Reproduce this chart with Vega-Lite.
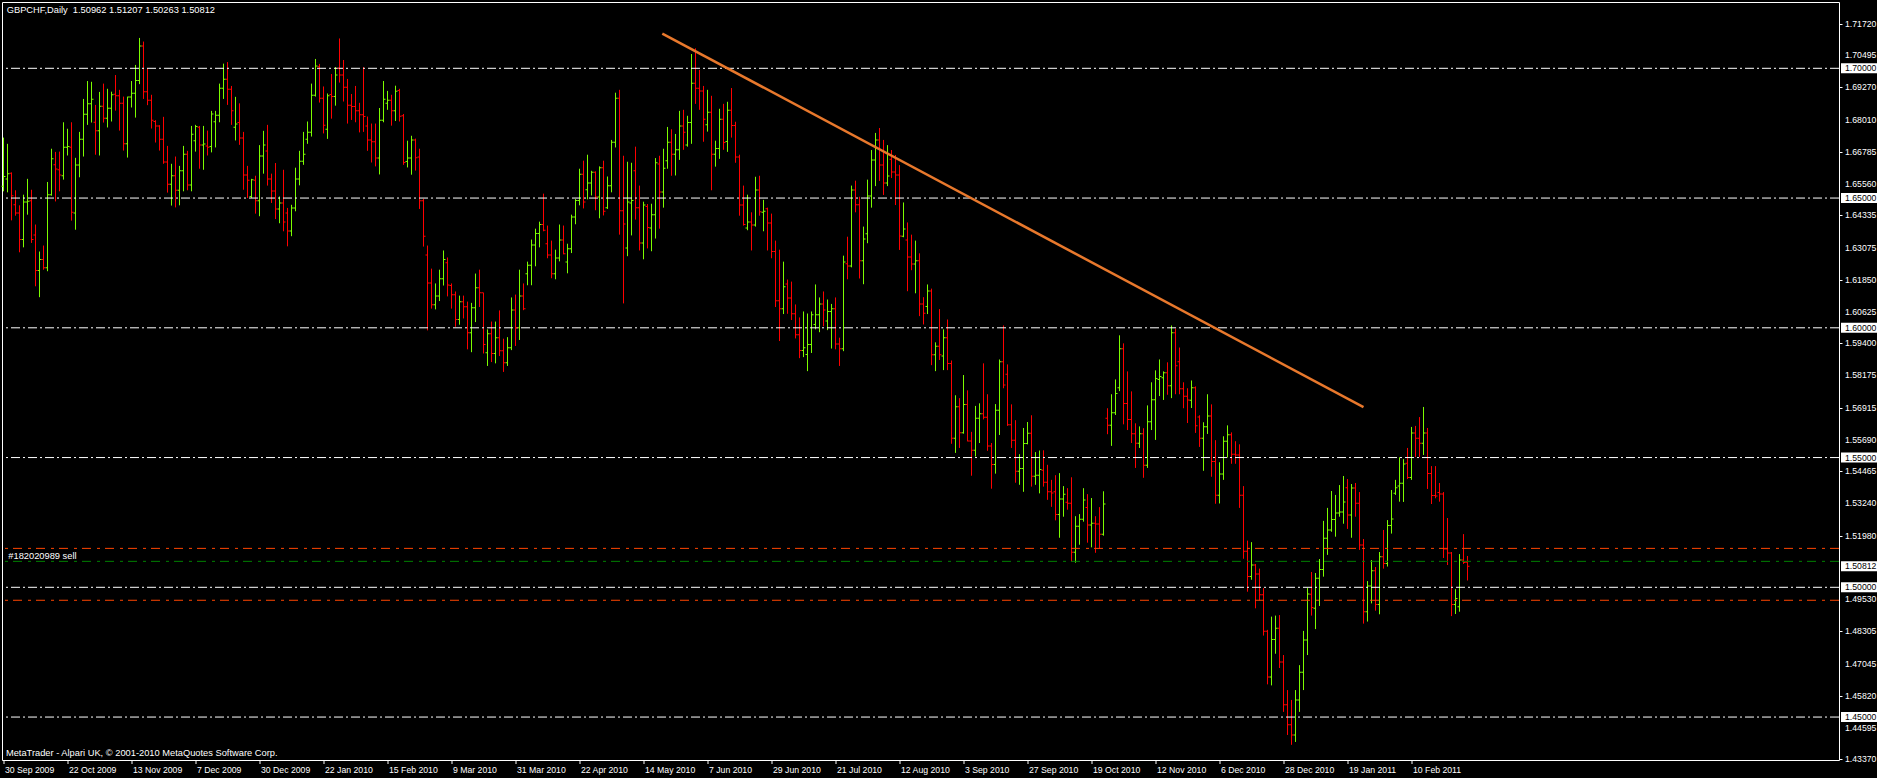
{
"$schema":"https://vega.github.io/schema/vega-lite/v6.json",
"width":1837,"height":758,
"autosize":{"type":"none"},
"padding":{"left":2,"top":2,"right":38,"bottom":18},
"background":"#000000",
"config":{"view":{"stroke":"#ffffff","strokeWidth":1},"font":"Liberation Sans"},
"datasets":{
"bars":[
{"i":0,"o":1.6545,"h":1.6733,"l":1.6526,"c":1.6583},{"i":1,"o":1.6573,"h":1.6709,"l":1.6522,"c":1.6594},{"i":2,"o":1.6596,"h":1.6599,"l":1.6414,"c":1.6509},{"i":3,"o":1.6474,"h":1.6530,"l":1.6432,"c":1.6442},{"i":4,"o":1.6442,"h":1.6472,"l":1.6291,"c":1.6340},{"i":5,"o":1.6340,"h":1.6513,"l":1.6310,"c":1.6485},{"i":6,"o":1.6485,"h":1.6574,"l":1.6436,"c":1.6488},{"i":7,"o":1.6490,"h":1.6532,"l":1.6327,"c":1.6340},{"i":8,"o":1.6358,"h":1.6398,"l":1.6160,"c":1.6221},{"i":9,"o":1.6221,"h":1.6294,"l":1.6118,"c":1.6263},
{"i":10,"o":1.6263,"h":1.6317,"l":1.6224,"c":1.6231},{"i":11,"o":1.6231,"h":1.6562,"l":1.6218,"c":1.6513},{"i":12,"o":1.6513,"h":1.6690,"l":1.6509,"c":1.6651},{"i":13,"o":1.6628,"h":1.6678,"l":1.6487,"c":1.6612},{"i":14,"o":1.6609,"h":1.6679,"l":1.6526,"c":1.6589},{"i":15,"o":1.6586,"h":1.6792,"l":1.6571,"c":1.6696},{"i":16,"o":1.6696,"h":1.6767,"l":1.6664,"c":1.6699},{"i":17,"o":1.6696,"h":1.6792,"l":1.6413,"c":1.6445},{"i":18,"o":1.6442,"h":1.6655,"l":1.6378,"c":1.6627},{"i":19,"o":1.6627,"h":1.6755,"l":1.6580,"c":1.6727},
{"i":20,"o":1.6727,"h":1.6882,"l":1.6660,"c":1.6823},{"i":21,"o":1.6823,"h":1.6951,"l":1.6782,"c":1.6863},{"i":22,"o":1.6863,"h":1.6948,"l":1.6791,"c":1.6881},{"i":23,"o":1.6792,"h":1.6859,"l":1.6667,"c":1.6759},{"i":24,"o":1.6759,"h":1.6909,"l":1.6664,"c":1.6854},{"i":25,"o":1.6854,"h":1.6941,"l":1.6791,"c":1.6808},{"i":26,"o":1.6808,"h":1.6921,"l":1.6772,"c":1.6846},{"i":27,"o":1.6846,"h":1.6910,"l":1.6795,"c":1.6898},{"i":28,"o":1.6900,"h":1.6974,"l":1.6837,"c":1.6894},{"i":29,"o":1.6894,"h":1.6917,"l":1.6760,"c":1.6865},
{"i":30,"o":1.6865,"h":1.6891,"l":1.6683,"c":1.6709},{"i":31,"o":1.6709,"h":1.6891,"l":1.6656,"c":1.6889},{"i":32,"o":1.6889,"h":1.6951,"l":1.6849,"c":1.6904},{"i":33,"o":1.6904,"h":1.7013,"l":1.6810,"c":1.6953},{"i":34,"o":1.6953,"h":1.7117,"l":1.6939,"c":1.7086},{"i":35,"o":1.7086,"h":1.7103,"l":1.6882,"c":1.6910},{"i":36,"o":1.6910,"h":1.7000,"l":1.6858,"c":1.6877},{"i":37,"o":1.6877,"h":1.6898,"l":1.6768,"c":1.6800},{"i":38,"o":1.6795,"h":1.6800,"l":1.6714,"c":1.6778},{"i":39,"o":1.6778,"h":1.6781,"l":1.6683,"c":1.6727},
{"i":40,"o":1.6727,"h":1.6813,"l":1.6632,"c":1.6639},{"i":41,"o":1.6639,"h":1.6701,"l":1.6521,"c":1.6553},{"i":42,"o":1.6553,"h":1.6632,"l":1.6471,"c":1.6586},{"i":43,"o":1.6586,"h":1.6660,"l":1.6464,"c":1.6530},{"i":44,"o":1.6530,"h":1.6624,"l":1.6472,"c":1.6605},{"i":45,"o":1.6605,"h":1.6701,"l":1.6526,"c":1.6669},{"i":46,"o":1.6669,"h":1.6682,"l":1.6530,"c":1.6550},{"i":47,"o":1.6550,"h":1.6778,"l":1.6526,"c":1.6746},{"i":48,"o":1.6721,"h":1.6782,"l":1.6679,"c":1.6776},{"i":49,"o":1.6773,"h":1.6778,"l":1.6613,"c":1.6704},
{"i":50,"o":1.6704,"h":1.6778,"l":1.6609,"c":1.6708},{"i":51,"o":1.6701,"h":1.6760,"l":1.6664,"c":1.6696},{"i":52,"o":1.6699,"h":1.6836,"l":1.6676,"c":1.6824},{"i":53,"o":1.6794,"h":1.6836,"l":1.6695,"c":1.6819},{"i":54,"o":1.6819,"h":1.6941,"l":1.6792,"c":1.6923},{"i":55,"o":1.6923,"h":1.7018,"l":1.6882,"c":1.6958},{"i":56,"o":1.6958,"h":1.7024,"l":1.6859,"c":1.6919},{"i":57,"o":1.6919,"h":1.6932,"l":1.6782,"c":1.6836},{"i":58,"o":1.6773,"h":1.6890,"l":1.6722,"c":1.6785},{"i":59,"o":1.6791,"h":1.6865,"l":1.6705,"c":1.6731},
{"i":60,"o":1.6731,"h":1.6755,"l":1.6532,"c":1.6589},{"i":61,"o":1.6589,"h":1.6624,"l":1.6500,"c":1.6569},{"i":62,"o":1.6506,"h":1.6574,"l":1.6500,"c":1.6571},{"i":63,"o":1.6569,"h":1.6586,"l":1.6440,"c":1.6490},{"i":64,"o":1.6490,"h":1.6704,"l":1.6430,"c":1.6662},{"i":65,"o":1.6662,"h":1.6759,"l":1.6594,"c":1.6704},{"i":66,"o":1.6681,"h":1.6782,"l":1.6548,"c":1.6573},{"i":67,"o":1.6573,"h":1.6594,"l":1.6481,"c":1.6527},{"i":68,"o":1.6527,"h":1.6635,"l":1.6419,"c":1.6458},{"i":69,"o":1.6458,"h":1.6506,"l":1.6403,"c":1.6481},
{"i":70,"o":1.6481,"h":1.6609,"l":1.6372,"c":1.6408},{"i":71,"o":1.6442,"h":1.6462,"l":1.6314,"c":1.6373},{"i":72,"o":1.6373,"h":1.6474,"l":1.6353,"c":1.6462},{"i":73,"o":1.6462,"h":1.6617,"l":1.6449,"c":1.6573},{"i":74,"o":1.6573,"h":1.6682,"l":1.6549,"c":1.6642},{"i":75,"o":1.6642,"h":1.6755,"l":1.6628,"c":1.6669},{"i":76,"o":1.6727,"h":1.6795,"l":1.6709,"c":1.6754},{"i":77,"o":1.6754,"h":1.6941,"l":1.6737,"c":1.6896},{"i":78,"o":1.6896,"h":1.7036,"l":1.6891,"c":1.7009},{"i":79,"o":1.7006,"h":1.7017,"l":1.6868,"c":1.6885},
{"i":80,"o":1.6885,"h":1.6930,"l":1.6749,"c":1.6781},{"i":81,"o":1.6765,"h":1.6903,"l":1.6728,"c":1.6894},{"i":82,"o":1.6899,"h":1.6978,"l":1.6806,"c":1.6891},{"i":83,"o":1.6891,"h":1.7005,"l":1.6856,"c":1.6974},{"i":84,"o":1.7000,"h":1.7115,"l":1.6945,"c":1.6974},{"i":85,"o":1.6974,"h":1.7032,"l":1.6872,"c":1.6927},{"i":86,"o":1.6927,"h":1.6959,"l":1.6787,"c":1.6858},{"i":87,"o":1.6858,"h":1.6901,"l":1.6801,"c":1.6853},{"i":88,"o":1.6853,"h":1.6932,"l":1.6792,"c":1.6836},{"i":89,"o":1.6836,"h":1.6867,"l":1.6753,"c":1.6821},
{"i":90,"o":1.6821,"h":1.7005,"l":1.6755,"c":1.6814},{"i":91,"o":1.6778,"h":1.6814,"l":1.6682,"c":1.6724},{"i":92,"o":1.6724,"h":1.6787,"l":1.6637,"c":1.6717},{"i":93,"o":1.6717,"h":1.6787,"l":1.6622,"c":1.6654},{"i":94,"o":1.6654,"h":1.6847,"l":1.6591,"c":1.6800},{"i":95,"o":1.6800,"h":1.6951,"l":1.6792,"c":1.6881},{"i":96,"o":1.6865,"h":1.6913,"l":1.6840,"c":1.6877},{"i":97,"o":1.6877,"h":1.6898,"l":1.6779,"c":1.6836},{"i":98,"o":1.6836,"h":1.6933,"l":1.6797,"c":1.6912},{"i":99,"o":1.6914,"h":1.6921,"l":1.6795,"c":1.6815},
{"i":100,"o":1.6817,"h":1.6824,"l":1.6628,"c":1.6637},{"i":101,"o":1.6641,"h":1.6721,"l":1.6618,"c":1.6654},{"i":102,"o":1.6654,"h":1.6740,"l":1.6590,"c":1.6724},{"i":103,"o":1.6724,"h":1.6729,"l":1.6606,"c":1.6655},{"i":104,"o":1.6658,"h":1.6690,"l":1.6458,"c":1.6490},{"i":105,"o":1.6490,"h":1.6497,"l":1.6313,"c":1.6353},{"i":106,"o":1.6281,"h":1.6317,"l":1.5990,"c":1.6173},{"i":107,"o":1.6173,"h":1.6228,"l":1.6074,"c":1.6089},{"i":108,"o":1.6089,"h":1.6171,"l":1.6071,"c":1.6123},{"i":109,"o":1.6123,"h":1.6224,"l":1.6103,"c":1.6189},
{"i":110,"o":1.6189,"h":1.6298,"l":1.6163,"c":1.6263},{"i":111,"o":1.6251,"h":1.6271,"l":1.6121,"c":1.6165},{"i":112,"o":1.6163,"h":1.6171,"l":1.6074,"c":1.6127},{"i":113,"o":1.6127,"h":1.6140,"l":1.6004,"c":1.6032},{"i":114,"o":1.6032,"h":1.6124,"l":1.6012,"c":1.6100},{"i":115,"o":1.6100,"h":1.6124,"l":1.6036,"c":1.6081},{"i":116,"o":1.6081,"h":1.6101,"l":1.5917,"c":1.5981},{"i":117,"o":1.5981,"h":1.6096,"l":1.5906,"c":1.6077},{"i":118,"o":1.6077,"h":1.6209,"l":1.6022,"c":1.6154},{"i":119,"o":1.6154,"h":1.6224,"l":1.6080,"c":1.6135},
{"i":120,"o":1.6135,"h":1.6136,"l":1.5901,"c":1.5936},{"i":121,"o":1.5904,"h":1.5994,"l":1.5853,"c":1.5977},{"i":122,"o":1.5977,"h":1.6024,"l":1.5868,"c":1.5901},{"i":123,"o":1.5901,"h":1.6024,"l":1.5863,"c":1.5962},{"i":124,"o":1.5962,"h":1.6067,"l":1.5891,"c":1.5912},{"i":125,"o":1.5912,"h":1.5958,"l":1.5830,"c":1.5865},{"i":126,"o":1.5865,"h":1.5964,"l":1.5853,"c":1.5923},{"i":127,"o":1.5923,"h":1.6117,"l":1.5914,"c":1.6069},{"i":128,"o":1.6069,"h":1.6128,"l":1.5930,"c":1.6000},{"i":129,"o":1.6000,"h":1.6224,"l":1.5953,"c":1.6123},
{"i":130,"o":1.6123,"h":1.6171,"l":1.6068,"c":1.6073},{"i":131,"o":1.6208,"h":1.6255,"l":1.6164,"c":1.6241},{"i":132,"o":1.6241,"h":1.6340,"l":1.6164,"c":1.6319},{"i":133,"o":1.6319,"h":1.6382,"l":1.6237,"c":1.6363},{"i":134,"o":1.6363,"h":1.6409,"l":1.6310,"c":1.6398},{"i":135,"o":1.6398,"h":1.6517,"l":1.6372,"c":1.6376},{"i":136,"o":1.6324,"h":1.6394,"l":1.6268,"c":1.6281},{"i":137,"o":1.6281,"h":1.6336,"l":1.6191,"c":1.6208},{"i":138,"o":1.6208,"h":1.6301,"l":1.6187,"c":1.6269},{"i":139,"o":1.6269,"h":1.6398,"l":1.6256,"c":1.6338},
{"i":140,"o":1.6338,"h":1.6394,"l":1.6283,"c":1.6285},{"i":141,"o":1.6254,"h":1.6324,"l":1.6210,"c":1.6305},{"i":142,"o":1.6305,"h":1.6436,"l":1.6288,"c":1.6427},{"i":143,"o":1.6427,"h":1.6496,"l":1.6399,"c":1.6491},{"i":144,"o":1.6491,"h":1.6613,"l":1.6472,"c":1.6592},{"i":145,"o":1.6592,"h":1.6644,"l":1.6460,"c":1.6485},{"i":146,"o":1.6532,"h":1.6667,"l":1.6495,"c":1.6558},{"i":147,"o":1.6558,"h":1.6605,"l":1.6510,"c":1.6599},{"i":148,"o":1.6599,"h":1.6603,"l":1.6453,"c":1.6504},{"i":149,"o":1.6504,"h":1.6622,"l":1.6422,"c":1.6617},
{"i":150,"o":1.6617,"h":1.6644,"l":1.6433,"c":1.6449},{"i":151,"o":1.6463,"h":1.6583,"l":1.6458,"c":1.6547},{"i":152,"o":1.6547,"h":1.6724,"l":1.6522,"c":1.6715},{"i":153,"o":1.6715,"h":1.6906,"l":1.6695,"c":1.6885},{"i":154,"o":1.6885,"h":1.6917,"l":1.6359,"c":1.6451},{"i":155,"o":1.6451,"h":1.6663,"l":1.6094,"c":1.6400},{"i":156,"o":1.6308,"h":1.6640,"l":1.6276,"c":1.6485},{"i":157,"o":1.6481,"h":1.6636,"l":1.6356,"c":1.6491},{"i":158,"o":1.6605,"h":1.6698,"l":1.6417,"c":1.6463},{"i":159,"o":1.6463,"h":1.6548,"l":1.6298,"c":1.6327},
{"i":160,"o":1.6327,"h":1.6486,"l":1.6264,"c":1.6473},{"i":161,"o":1.6467,"h":1.6477,"l":1.6306,"c":1.6387},{"i":162,"o":1.6385,"h":1.6478,"l":1.6295,"c":1.6436},{"i":163,"o":1.6436,"h":1.6654,"l":1.6344,"c":1.6636},{"i":164,"o":1.6631,"h":1.6663,"l":1.6382,"c":1.6523},{"i":165,"o":1.6523,"h":1.6690,"l":1.6463,"c":1.6615},{"i":166,"o":1.6644,"h":1.6774,"l":1.6613,"c":1.6715},{"i":167,"o":1.6715,"h":1.6765,"l":1.6586,"c":1.6669},{"i":168,"o":1.6669,"h":1.6747,"l":1.6587,"c":1.6686},{"i":169,"o":1.6686,"h":1.6836,"l":1.6647,"c":1.6778},
{"i":170,"o":1.6778,"h":1.6840,"l":1.6686,"c":1.6754},{"i":171,"o":1.6704,"h":1.6817,"l":1.6698,"c":1.6791},{"i":172,"o":1.6791,"h":1.7055,"l":1.6709,"c":1.6942},{"i":173,"o":1.6942,"h":1.7077,"l":1.6863,"c":1.6923},{"i":174,"o":1.6923,"h":1.6994,"l":1.6840,"c":1.6913},{"i":175,"o":1.6913,"h":1.6932,"l":1.6717,"c":1.6804},{"i":176,"o":1.6782,"h":1.6917,"l":1.6756,"c":1.6831},{"i":177,"o":1.6831,"h":1.6894,"l":1.6530,"c":1.6669},{"i":178,"o":1.6669,"h":1.6721,"l":1.6621,"c":1.6691},{"i":179,"o":1.6691,"h":1.6844,"l":1.6651,"c":1.6804},
{"i":180,"o":1.6804,"h":1.6863,"l":1.6686,"c":1.6714},{"i":181,"o":1.6718,"h":1.6871,"l":1.6678,"c":1.6838},{"i":182,"o":1.6838,"h":1.6924,"l":1.6733,"c":1.6780},{"i":183,"o":1.6780,"h":1.6794,"l":1.6636,"c":1.6658},{"i":184,"o":1.6658,"h":1.6667,"l":1.6432,"c":1.6473},{"i":185,"o":1.6473,"h":1.6548,"l":1.6394,"c":1.6398},{"i":186,"o":1.6385,"h":1.6513,"l":1.6376,"c":1.6408},{"i":187,"o":1.6408,"h":1.6445,"l":1.6298,"c":1.6396},{"i":188,"o":1.6396,"h":1.6582,"l":1.6390,"c":1.6531},{"i":189,"o":1.6531,"h":1.6586,"l":1.6432,"c":1.6447},
{"i":190,"o":1.6445,"h":1.6493,"l":1.6372,"c":1.6449},{"i":191,"o":1.6459,"h":1.6463,"l":1.6298,"c":1.6404},{"i":192,"o":1.6404,"h":1.6440,"l":1.6268,"c":1.6294},{"i":193,"o":1.6294,"h":1.6336,"l":1.6080,"c":1.6104},{"i":194,"o":1.6104,"h":1.6301,"l":1.5949,"c":1.6073},{"i":195,"o":1.6073,"h":1.6255,"l":1.6053,"c":1.6158},{"i":196,"o":1.6169,"h":1.6186,"l":1.6054,"c":1.6115},{"i":197,"o":1.6115,"h":1.6178,"l":1.6030,"c":1.6054},{"i":198,"o":1.6054,"h":1.6090,"l":1.5959,"c":1.5973},{"i":199,"o":1.5973,"h":1.6040,"l":1.5883,"c":1.5913},
{"i":200,"o":1.5913,"h":1.6063,"l":1.5887,"c":1.5923},{"i":201,"o":1.5897,"h":1.6055,"l":1.5833,"c":1.5936},{"i":202,"o":1.5936,"h":1.6063,"l":1.5903,"c":1.6050},{"i":203,"o":1.6013,"h":1.6167,"l":1.5994,"c":1.6050},{"i":204,"o":1.6050,"h":1.6117,"l":1.5983,"c":1.6092},{"i":205,"o":1.6092,"h":1.6140,"l":1.6006,"c":1.6069},{"i":206,"o":1.6026,"h":1.6109,"l":1.5991,"c":1.6063},{"i":207,"o":1.6063,"h":1.6092,"l":1.5920,"c":1.6073},{"i":208,"o":1.6073,"h":1.6117,"l":1.5917,"c":1.5938},{"i":209,"o":1.5938,"h":1.5962,"l":1.5853,"c":1.5919},
{"i":210,"o":1.5919,"h":1.6278,"l":1.5910,"c":1.6254},{"i":211,"o":1.6247,"h":1.6351,"l":1.6187,"c":1.6238},{"i":212,"o":1.6238,"h":1.6548,"l":1.6233,"c":1.6531},{"i":213,"o":1.6531,"h":1.6567,"l":1.6445,"c":1.6474},{"i":214,"o":1.6474,"h":1.6505,"l":1.6190,"c":1.6258},{"i":215,"o":1.6258,"h":1.6390,"l":1.6168,"c":1.6342},{"i":216,"o":1.6362,"h":1.6571,"l":1.6326,"c":1.6508},{"i":217,"o":1.6508,"h":1.6685,"l":1.6463,"c":1.6647},{"i":218,"o":1.6647,"h":1.6751,"l":1.6546,"c":1.6724},{"i":219,"o":1.6724,"h":1.6770,"l":1.6566,"c":1.6627},
{"i":220,"o":1.6627,"h":1.6724,"l":1.6512,"c":1.6558},{"i":221,"o":1.6558,"h":1.6704,"l":1.6546,"c":1.6585},{"i":222,"o":1.6650,"h":1.6685,"l":1.6577,"c":1.6600},{"i":223,"o":1.6600,"h":1.6666,"l":1.6473,"c":1.6589},{"i":224,"o":1.6589,"h":1.6627,"l":1.6300,"c":1.6354},{"i":225,"o":1.6353,"h":1.6483,"l":1.6349,"c":1.6381},{"i":226,"o":1.6338,"h":1.6406,"l":1.6141,"c":1.6273},{"i":227,"o":1.6273,"h":1.6359,"l":1.6222,"c":1.6246},{"i":228,"o":1.6246,"h":1.6336,"l":1.6133,"c":1.6258},{"i":229,"o":1.6258,"h":1.6287,"l":1.6045,"c":1.6092},
{"i":230,"o":1.6092,"h":1.6118,"l":1.6013,"c":1.6056},{"i":231,"o":1.6082,"h":1.6167,"l":1.6053,"c":1.6142},{"i":232,"o":1.6142,"h":1.6151,"l":1.5856,"c":1.5896},{"i":233,"o":1.5896,"h":1.5944,"l":1.5833,"c":1.5929},{"i":234,"o":1.5929,"h":1.6072,"l":1.5876,"c":1.5896},{"i":235,"o":1.5891,"h":1.5994,"l":1.5837,"c":1.5962},{"i":236,"o":1.5962,"h":1.6032,"l":1.5837,"c":1.5862},{"i":237,"o":1.5862,"h":1.5874,"l":1.5553,"c":1.5574},{"i":238,"o":1.5574,"h":1.5740,"l":1.5518,"c":1.5696},{"i":239,"o":1.5696,"h":1.5729,"l":1.5537,"c":1.5596},
{"i":240,"o":1.5596,"h":1.5818,"l":1.5592,"c":1.5704},{"i":241,"o":1.5704,"h":1.5759,"l":1.5562,"c":1.5564},{"i":242,"o":1.5564,"h":1.5599,"l":1.5430,"c":1.5528},{"i":243,"o":1.5528,"h":1.5699,"l":1.5504,"c":1.5651},{"i":244,"o":1.5651,"h":1.5709,"l":1.5556,"c":1.5669},{"i":245,"o":1.5669,"h":1.5863,"l":1.5647,"c":1.5655},{"i":246,"o":1.5655,"h":1.5744,"l":1.5526,"c":1.5545},{"i":247,"o":1.5545,"h":1.5556,"l":1.5380,"c":1.5473},{"i":248,"o":1.5473,"h":1.5706,"l":1.5438,"c":1.5682},{"i":249,"o":1.5682,"h":1.5878,"l":1.5587,"c":1.5869},
{"i":250,"o":1.5869,"h":1.6009,"l":1.5767,"c":1.5780},{"i":251,"o":1.5821,"h":1.5859,"l":1.5622,"c":1.5626},{"i":252,"o":1.5626,"h":1.5705,"l":1.5537,"c":1.5567},{"i":253,"o":1.5567,"h":1.5644,"l":1.5403,"c":1.5447},{"i":254,"o":1.5447,"h":1.5513,"l":1.5395,"c":1.5458},{"i":255,"o":1.5458,"h":1.5614,"l":1.5368,"c":1.5554},{"i":256,"o":1.5554,"h":1.5637,"l":1.5551,"c":1.5594},{"i":257,"o":1.5594,"h":1.5663,"l":1.5388,"c":1.5428},{"i":258,"o":1.5428,"h":1.5521,"l":1.5395,"c":1.5432},{"i":259,"o":1.5432,"h":1.5527,"l":1.5362,"c":1.5454},
{"i":260,"o":1.5451,"h":1.5528,"l":1.5388,"c":1.5405},{"i":261,"o":1.5405,"h":1.5472,"l":1.5337,"c":1.5368},{"i":262,"o":1.5368,"h":1.5414,"l":1.5310,"c":1.5363},{"i":263,"o":1.5368,"h":1.5432,"l":1.5258,"c":1.5281},{"i":264,"o":1.5281,"h":1.5440,"l":1.5191,"c":1.5340},{"i":265,"o":1.5340,"h":1.5390,"l":1.5272,"c":1.5359},{"i":266,"o":1.5328,"h":1.5382,"l":1.5299,"c":1.5324},{"i":267,"o":1.5324,"h":1.5424,"l":1.5099,"c":1.5135},{"i":268,"o":1.5135,"h":1.5274,"l":1.5095,"c":1.5235},{"i":269,"o":1.5235,"h":1.5282,"l":1.5164,"c":1.5262},
{"i":270,"o":1.5262,"h":1.5382,"l":1.5253,"c":1.5336},{"i":271,"o":1.5308,"h":1.5359,"l":1.5172,"c":1.5240},{"i":272,"o":1.5240,"h":1.5344,"l":1.5154,"c":1.5247},{"i":273,"o":1.5247,"h":1.5274,"l":1.5133,"c":1.5244},{"i":274,"o":1.5244,"h":1.5309,"l":1.5149,"c":1.5204},{"i":275,"o":1.5204,"h":1.5370,"l":1.5199,"c":1.5321},{"i":276,"o":1.5651,"h":1.5690,"l":1.5590,"c":1.5624},{"i":277,"o":1.5624,"h":1.5744,"l":1.5545,"c":1.5673},{"i":278,"o":1.5673,"h":1.5801,"l":1.5664,"c":1.5747},{"i":279,"o":1.5769,"h":1.5971,"l":1.5756,"c":1.5919},
{"i":280,"o":1.5919,"h":1.5940,"l":1.5628,"c":1.5708},{"i":281,"o":1.5708,"h":1.5832,"l":1.5606,"c":1.5647},{"i":282,"o":1.5647,"h":1.5755,"l":1.5556,"c":1.5592},{"i":283,"o":1.5592,"h":1.5632,"l":1.5460,"c":1.5555},{"i":284,"o":1.5555,"h":1.5620,"l":1.5537,"c":1.5592},{"i":285,"o":1.5592,"h":1.5613,"l":1.5422,"c":1.5470},{"i":286,"o":1.5470,"h":1.5701,"l":1.5460,"c":1.5638},{"i":287,"o":1.5638,"h":1.5790,"l":1.5606,"c":1.5723},{"i":288,"o":1.5723,"h":1.5836,"l":1.5568,"c":1.5805},{"i":289,"o":1.5801,"h":1.5878,"l":1.5737,"c":1.5812},
{"i":290,"o":1.5808,"h":1.5832,"l":1.5722,"c":1.5827},{"i":291,"o":1.5827,"h":1.5867,"l":1.5742,"c":1.5777},{"i":292,"o":1.5777,"h":1.6009,"l":1.5729,"c":1.5981},{"i":293,"o":1.5981,"h":1.5997,"l":1.5744,"c":1.5854},{"i":294,"o":1.5869,"h":1.5924,"l":1.5744,"c":1.5765},{"i":295,"o":1.5765,"h":1.5790,"l":1.5690,"c":1.5736},{"i":296,"o":1.5736,"h":1.5767,"l":1.5633,"c":1.5722},{"i":297,"o":1.5721,"h":1.5797,"l":1.5691,"c":1.5769},{"i":298,"o":1.5769,"h":1.5774,"l":1.5595,"c":1.5623},{"i":299,"o":1.5656,"h":1.5663,"l":1.5541,"c":1.5574},
{"i":300,"o":1.5574,"h":1.5636,"l":1.5449,"c":1.5619},{"i":301,"o":1.5619,"h":1.5744,"l":1.5591,"c":1.5660},{"i":302,"o":1.5660,"h":1.5705,"l":1.5426,"c":1.5485},{"i":303,"o":1.5485,"h":1.5567,"l":1.5322,"c":1.5355},{"i":304,"o":1.5355,"h":1.5482,"l":1.5323,"c":1.5437},{"i":305,"o":1.5437,"h":1.5582,"l":1.5414,"c":1.5563},{"i":306,"o":1.5563,"h":1.5624,"l":1.5500,"c":1.5588},{"i":307,"o":1.5588,"h":1.5597,"l":1.5476,"c":1.5513},{"i":308,"o":1.5513,"h":1.5563,"l":1.5476,"c":1.5510},{"i":309,"o":1.5510,"h":1.5551,"l":1.5306,"c":1.5355},
{"i":310,"o":1.5355,"h":1.5390,"l":1.5110,"c":1.5139},{"i":311,"o":1.5139,"h":1.5180,"l":1.4983,"c":1.5042},{"i":312,"o":1.5042,"h":1.5174,"l":1.5029,"c":1.5086},{"i":313,"o":1.5086,"h":1.5090,"l":1.4919,"c":1.5051},{"i":314,"o":1.5051,"h":1.5072,"l":1.4949,"c":1.4971},{"i":315,"o":1.4971,"h":1.4997,"l":1.4814,"c":1.4831},{"i":316,"o":1.4831,"h":1.4836,"l":1.4626,"c":1.4654},{"i":317,"o":1.4654,"h":1.4887,"l":1.4622,"c":1.4799},{"i":318,"o":1.4799,"h":1.4891,"l":1.4744,"c":1.4842},{"i":319,"o":1.4842,"h":1.4893,"l":1.4689,"c":1.4712},
{"i":320,"o":1.4712,"h":1.4739,"l":1.4520,"c":1.4547},{"i":321,"o":1.4547,"h":1.4604,"l":1.4431,"c":1.4470},{"i":322,"o":1.4470,"h":1.4566,"l":1.4393,"c":1.4431},{"i":323,"o":1.4431,"h":1.4604,"l":1.4404,"c":1.4566},{"i":324,"o":1.4566,"h":1.4700,"l":1.4520,"c":1.4673},{"i":325,"o":1.4673,"h":1.4832,"l":1.4604,"c":1.4797},{"i":326,"o":1.4797,"h":1.4997,"l":1.4739,"c":1.4974},{"i":327,"o":1.4973,"h":1.5059,"l":1.4891,"c":1.4922},{"i":328,"o":1.4919,"h":1.5055,"l":1.4839,"c":1.5035},{"i":329,"o":1.5035,"h":1.5109,"l":1.4928,"c":1.5069},
{"i":330,"o":1.5069,"h":1.5256,"l":1.5041,"c":1.5189},{"i":331,"o":1.5189,"h":1.5306,"l":1.5125,"c":1.5221},{"i":332,"o":1.5221,"h":1.5371,"l":1.5214,"c":1.5261},{"i":333,"o":1.5261,"h":1.5356,"l":1.5195,"c":1.5286},{"i":334,"o":1.5286,"h":1.5394,"l":1.5272,"c":1.5290},{"i":335,"o":1.5290,"h":1.5429,"l":1.5245,"c":1.5329},{"i":336,"o":1.5384,"h":1.5417,"l":1.5225,"c":1.5279},{"i":337,"o":1.5279,"h":1.5398,"l":1.5191,"c":1.5383},{"i":338,"o":1.5383,"h":1.5402,"l":1.5272,"c":1.5324},{"i":339,"o":1.5324,"h":1.5367,"l":1.5144,"c":1.5163},
{"i":340,"o":1.5163,"h":1.5186,"l":1.4860,"c":1.4906},{"i":341,"o":1.4906,"h":1.5024,"l":1.4868,"c":1.5005},{"i":342,"o":1.5005,"h":1.5105,"l":1.4938,"c":1.5064},{"i":343,"o":1.5064,"h":1.5078,"l":1.4910,"c":1.4934},{"i":344,"o":1.4934,"h":1.5136,"l":1.4896,"c":1.5118},{"i":345,"o":1.5118,"h":1.5221,"l":1.5072,"c":1.5092},{"i":346,"o":1.5092,"h":1.5259,"l":1.5080,"c":1.5238},{"i":347,"o":1.5238,"h":1.5375,"l":1.5207,"c":1.5263},{"i":348,"o":1.5362,"h":1.5414,"l":1.5356,"c":1.5384},{"i":349,"o":1.5390,"h":1.5501,"l":1.5330,"c":1.5401},
{"i":350,"o":1.5401,"h":1.5494,"l":1.5329,"c":1.5475},{"i":351,"o":1.5478,"h":1.5537,"l":1.5417,"c":1.5423},{"i":352,"o":1.5423,"h":1.5618,"l":1.5414,"c":1.5595},{"i":353,"o":1.5595,"h":1.5622,"l":1.5502,"c":1.5574},{"i":354,"o":1.5574,"h":1.5656,"l":1.5502,"c":1.5555},{"i":355,"o":1.5555,"h":1.5695,"l":1.5510,"c":1.5595},{"i":356,"o":1.5595,"h":1.5614,"l":1.5379,"c":1.5439},{"i":357,"o":1.5439,"h":1.5467,"l":1.5321,"c":1.5354},{"i":358,"o":1.5354,"h":1.5467,"l":1.5343,"c":1.5352},{"i":359,"o":1.5365,"h":1.5402,"l":1.5330,"c":1.5360},
{"i":360,"o":1.5360,"h":1.5367,"l":1.5113,"c":1.5148},{"i":361,"o":1.5148,"h":1.5267,"l":1.5086,"c":1.5132},{"i":362,"o":1.5132,"h":1.5136,"l":1.4889,"c":1.4934},{"i":363,"o":1.4934,"h":1.4993,"l":1.4897,"c":1.4957},{"i":364,"o":1.4925,"h":1.5128,"l":1.4906,"c":1.5105},{"i":365,"o":1.5105,"h":1.5205,"l":1.5090,"c":1.5096},{"i":366,"o":1.50962,"h":1.51207,"l":1.50263,"c":1.50812}
],
"levels":[{"p":1.70},{"p":1.65},{"p":1.60},{"p":1.55},{"p":1.50},{"p":1.45}],
"orders":[{"p":1.5150,"k":"sl"},{"p":1.5100,"k":"open"},{"p":1.4950,"k":"tp"}],
"trend":[{"i":164.7,"p":1.7134},{"i":340.0,"p":1.5694}],
"boxes":[{"p":1.70},{"p":1.65},{"p":1.60},{"p":1.55},{"p":1.50},{"p":1.45},{"p":1.50812}],
"ylabels":[{"p":1.4337},{"p":1.44595},{"p":1.4582},{"p":1.47045},{"p":1.48305},{"p":1.4953},{"p":1.5198},{"p":1.5324},{"p":1.54465},{"p":1.5569},{"p":1.56915},{"p":1.58175},{"p":1.594},{"p":1.60625},{"p":1.6185},{"p":1.63075},{"p":1.64335},{"p":1.6556},{"p":1.66785},{"p":1.6801},{"p":1.6927},{"p":1.70495},{"p":1.7172}],
"notes":[{"i":0.8,"p":1.72235,"t":"GBPCHF,Daily\u00a0 1.50962 1.51207 1.50263 1.50812"},{"i":1.2,"p":1.51218,"t":"#182020989 sell"},{"i":0.6,"p":1.43603,"t":"MetaTrader - Alpari UK, © 2001-2010 MetaQuotes Software Corp."}]
},
"layer":[
{"data":{"name":"bars"},"mark":{"type":"rule","strokeWidth":1},
 "encoding":{
  "x":{"field":"i","type":"quantitative","scale":{"domain":[-0.375,458.875],"nice":false,"zero":false},
   "axis":{"orient":"bottom","title":null,"domain":false,"grid":false,"translate":0,"values":[0,16,32,48,64,80,96,112,128,144,160,176,192,208,224,240,256,272,288,304,320,336,352],
   "labelExpr":"['30 Sep 2009','22 Oct 2009','13 Nov 2009','7 Dec 2009','30 Dec 2009','22 Jan 2010','15 Feb 2010','9 Mar 2010','31 Mar 2010','22 Apr 2010','14 May 2010','7 Jun 2010','29 Jun 2010','21 Jul 2010','12 Aug 2010','3 Sep 2010','27 Sep 2010','19 Oct 2010','12 Nov 2010','6 Dec 2010','28 Dec 2010','19 Jan 2011','10 Feb 2011'][round(datum.value/16)]",
   "tickColor":"#ffffff","tickSize":4,"tickWidth":1,"labelColor":"#ffffff","labelFont":"Liberation Sans","labelFontSize":8.7,"labelAlign":"left","labelBaseline":"top","labelPadding":2,"labelOffset":1.5,"labelFlush":false,"labelOverlap":false,"labelBound":false}},
  "y":{"field":"l","type":"quantitative","scale":{"domain":[1.43345,1.72555],"nice":false,"zero":false},
   "axis":{"orient":"right","title":null,"domain":false,"grid":false,"labels":false,"values":[1.4337,1.44595,1.4582,1.47045,1.48305,1.4953,1.5198,1.5324,1.54465,1.5569,1.56915,1.58175,1.594,1.60625,1.6185,1.63075,1.64335,1.6556,1.66785,1.6801,1.6927,1.70495,1.7172],
   "tickColor":"#ffffff","tickSize":3,"tickWidth":1}},
  "y2":{"field":"h"},
  "color":{"condition":{"test":"datum.c >= datum.o","value":"#7cfc00"},"value":"#ff0000"}}},
{"data":{"name":"levels"},"mark":{"type":"rule","color":"#ffffff","strokeWidth":1,"strokeDash":[9,3,2,3]},
 "encoding":{"y":{"field":"p","type":"quantitative"}}},
{"data":{"name":"orders"},"mark":{"type":"rule","strokeWidth":1,"strokeDash":[9,5,3,6]},
 "encoding":{"y":{"field":"p","type":"quantitative"},
  "color":{"field":"k","type":"nominal","scale":{"domain":["sl","open","tp"],"range":["#ff4500","#008000","#ff4500"]},"legend":null}}},
{"data":{"name":"bars"},"mark":{"type":"tick","orient":"horizontal","size":1.5,"thickness":1,"xOffset":-1.25,"opacity":1},
 "encoding":{"x":{"field":"i","type":"quantitative"},"y":{"field":"o","type":"quantitative"},
  "color":{"condition":{"test":"datum.c >= datum.o","value":"#7cfc00"},"value":"#ff0000"}}},
{"data":{"name":"bars"},"mark":{"type":"tick","orient":"horizontal","size":1.5,"thickness":1,"xOffset":1.25,"opacity":1},
 "encoding":{"x":{"field":"i","type":"quantitative"},"y":{"field":"c","type":"quantitative"},
  "color":{"condition":{"test":"datum.c >= datum.o","value":"#7cfc00"},"value":"#ff0000"}}},
{"data":{"name":"trend"},"mark":{"type":"line","color":"#e8782c","strokeWidth":2.5},
 "encoding":{"x":{"field":"i","type":"quantitative"},"y":{"field":"p","type":"quantitative"}}},
{"data":{"name":"ylabels"},"mark":{"type":"text","align":"left","baseline":"middle","dx":6,"color":"#ffffff","font":"Liberation Sans","fontSize":8.7},
 "encoding":{"x":{"value":"width"},"y":{"field":"p","type":"quantitative"},"text":{"field":"p","type":"quantitative","format":".5f"}}},
{"data":{"name":"boxes"},"mark":{"type":"tick","orient":"horizontal","size":38,"thickness":10,"xOffset":21,"color":"#ffffff","opacity":1},
 "encoding":{"x":{"value":"width"},"y":{"field":"p","type":"quantitative"}}},
{"data":{"name":"boxes"},"mark":{"type":"text","align":"left","baseline":"middle","dx":6,"color":"#000000","font":"Liberation Sans","fontSize":8.7},
 "encoding":{"x":{"value":"width"},"y":{"field":"p","type":"quantitative"},"text":{"field":"p","type":"quantitative","format":".5f"}}},
{"data":{"name":"notes"},"mark":{"type":"text","align":"left","baseline":"middle","color":"#ffffff","font":"Liberation Sans","fontSize":9.3},
 "encoding":{"x":{"field":"i","type":"quantitative"},"y":{"field":"p","type":"quantitative"},"text":{"field":"t","type":"nominal"}}}
]
}
